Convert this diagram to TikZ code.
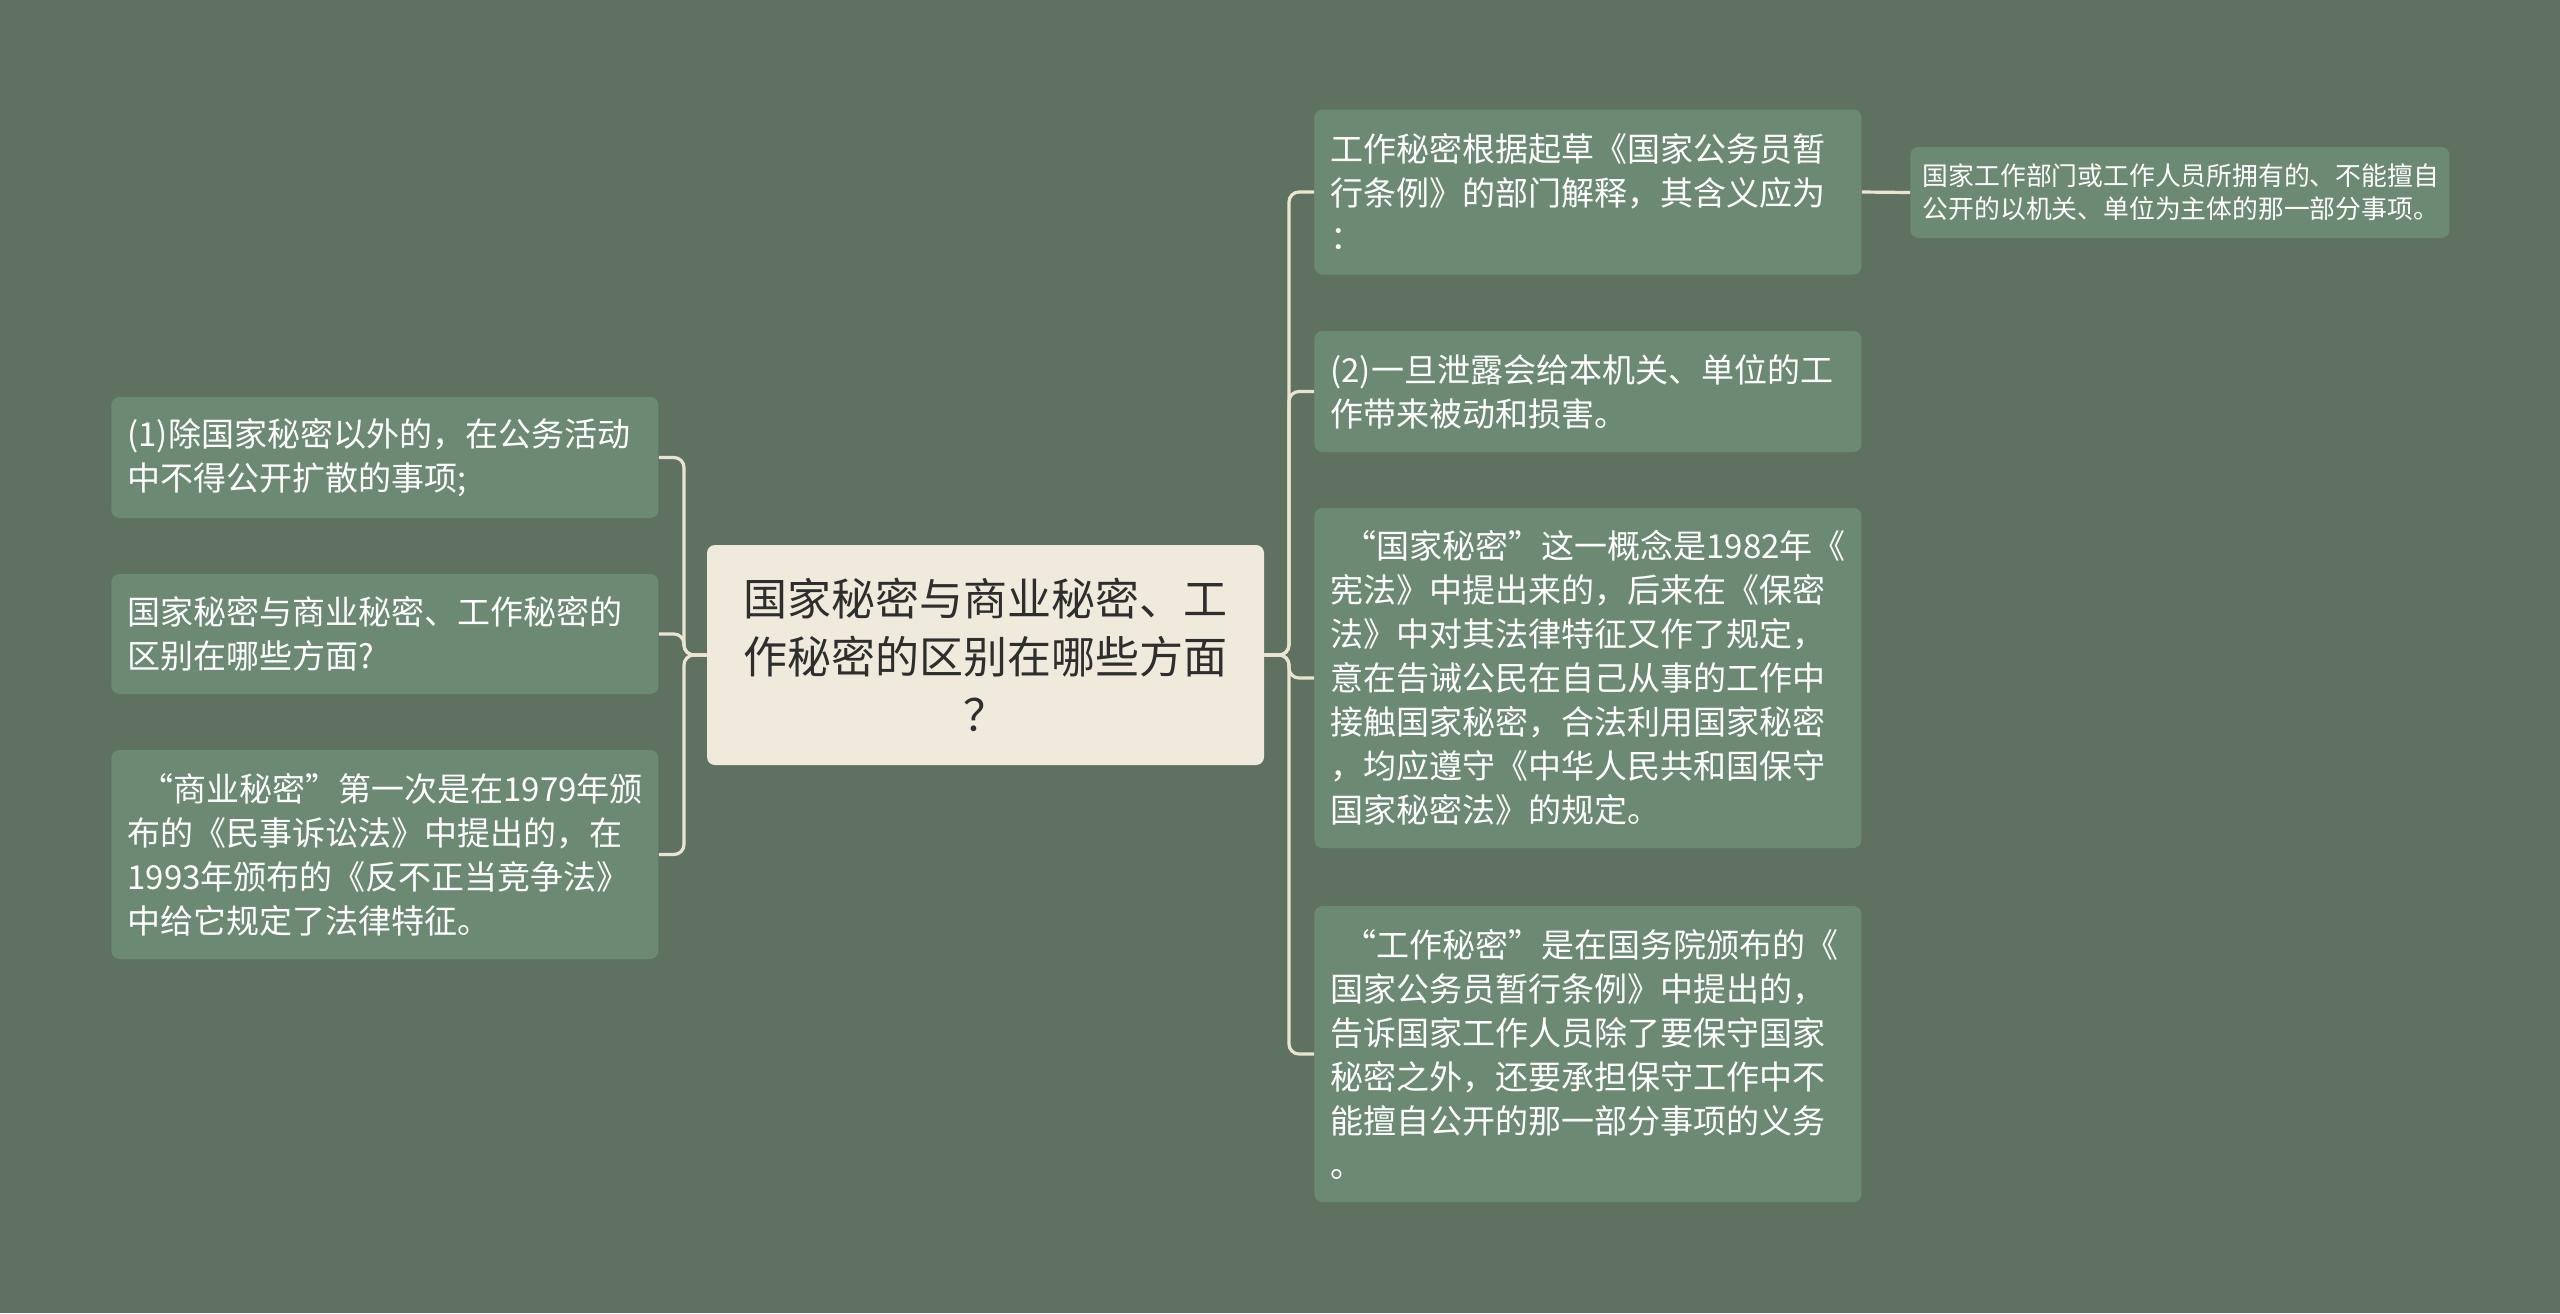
\documentclass[tikz,border=0pt]{standalone}
\usepackage{fontspec}
\setmainfont{Noto Sans CJK SC}
\usepackage{xcolor}
\usetikzlibrary{positioning}
\definecolor{bgcol}{HTML}{5F7262}
\definecolor{boxcol}{HTML}{6C8A73}
\definecolor{rootcol}{HTML}{EFEADB}
\definecolor{linecol}{HTML}{EAE5D0}
\tikzset{%
	root/.style   = {fill=rootcol, rounded corners=4pt, text=black!82, font=\fontsize{22}{29}\selectfont, text width=262.5pt, align=center, inner xsep=8pt, inner ysep=4pt},
	branch/.style = {fill=boxcol, rounded corners=4pt, text=white, font=\fontsize{16.5}{22}\selectfont, text width=257.5pt, align=left, inner xsep=8pt, inner ysep=4pt, anchor=west},
	detail/.style = {fill=boxcol, rounded corners=4pt, text=white, font=\fontsize{12.9}{16.5}\selectfont, text width=257pt, align=left, inner xsep=6.25pt, inner ysep=4pt, anchor=west},
	link/.style   = {draw=linecol, line width=1.6pt, rounded corners=5pt},
}
\newcommand{\lead}{\hspace*{0.4em}}
\begin{document}
\begin{tikzpicture}[x=0.5pt,y=-0.5pt]
	\fill[bgcol] (0,0) rectangle (2560,1313);
	
	\node[root, minimum height=110pt] (root) at (985.5,655) {国家秘密与商业秘密、工\\作秘密的区别在哪些方面\\？};
	
	% left side
	\node[branch, minimum height=60.5pt] (lfa) at (111,457.5) {(1)除国家秘密以外的，在公务活动\\中不得公开扩散的事项;};
	\node[branch, minimum height=60pt] (lfb) at (111,634) {国家秘密与商业秘密、工作秘密的\\区别在哪些方面?};
	\node[branch, minimum height=104.5pt] (lfc) at (111,854.5) {\lead“商业秘密”第一次是在1979年颁\\布的《民事诉讼法》中提出的，在\\1993年颁布的《反不正当竞争法》\\中给它规定了法律特征。};
	
	% right side
	\node[branch, minimum height=82.5pt] (rta) at (1314,192) {工作秘密根据起草《国家公务员暂\\行条例》的部门解释，其含义应为\\：};
	\node[branch, minimum height=60.5pt] (rtb) at (1314,391.5) {(2)一旦泄露会给本机关、单位的工\\作带来被动和损害。};
	\node[branch, minimum height=170pt] (rtc) at (1314,678) {\lead“国家秘密”这一概念是1982年《\\宪法》中提出来的，后来在《保密\\法》中对其法律特征又作了规定，\\意在告诫公民在自己从事的工作中\\接触国家秘密，合法利用国家秘密\\，均应遵守《中华人民共和国保守\\国家秘密法》的规定。};
	\node[branch, minimum height=148pt] (rtd) at (1314,1054) {\lead“工作秘密”是在国务院颁布的《\\国家公务员暂行条例》中提出的，\\告诉国家工作人员除了要保守国家\\秘密之外，还要承担保守工作中不\\能擅自公开的那一部分事项的义务\\。};
	\node[detail, minimum height=45.5pt] (rta1) at (1910,192.5) {国家工作部门或工作人员所拥有的、不能擅自\\公开的以机关、单位为主体的那一部分事项。};
	
	\coordinate (ljoin) at (684,655);
	\coordinate (rjoin) at (1289,655);
	\foreach \n in {lfa,lfb,lfc} \draw[link] (root.west) -- (ljoin) |- (\n.east);
	\foreach \n in {rta,rtb,rtc,rtd} \draw[link] (root.east) -- (rjoin) |- (\n.west);
	\draw[link] (rta.east) -- (rta1.west);
\end{tikzpicture}
\end{document}
